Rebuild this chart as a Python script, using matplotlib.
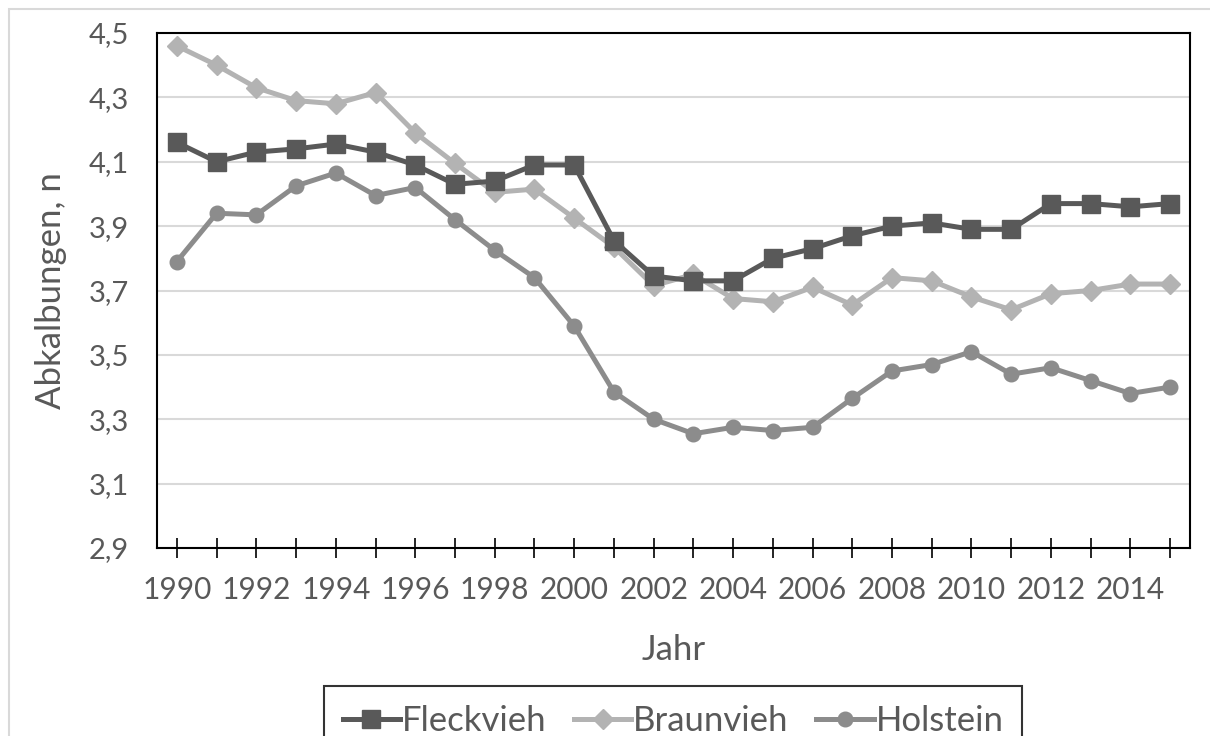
import matplotlib
matplotlib.use('Agg')
import matplotlib.pyplot as plt
from matplotlib.patches import Rectangle
from matplotlib.ticker import FuncFormatter

plt.rcParams['font.family'] = ['Lato', 'DejaVu Sans']

# data
years = list(range(1990, 2016))
fleckvieh = [4.16, 4.10, 4.13, 4.14, 4.155, 4.13, 4.09, 4.03, 4.04, 4.09, 4.09, 3.855,
             3.745, 3.73, 3.73, 3.80, 3.83, 3.87, 3.90, 3.91, 3.89, 3.89, 3.97, 3.97, 3.96, 3.97]
braunvieh = [4.46, 4.40, 4.33, 4.29, 4.28, 4.315, 4.19, 4.095, 4.005, 4.015, 3.925, 3.835,
             3.715, 3.75, 3.675, 3.665, 3.71, 3.655, 3.74, 3.73, 3.68, 3.64, 3.69, 3.70, 3.72, 3.72]
holstein = [3.79, 3.94, 3.935, 4.025, 4.065, 3.995, 4.02, 3.92, 3.825, 3.74, 3.59, 3.385,
            3.30, 3.255, 3.275, 3.265, 3.275, 3.365, 3.45, 3.47, 3.51, 3.44, 3.46, 3.42, 3.38, 3.40]
y_ticks = [2.9, 3.1, 3.3, 3.5, 3.7, 3.9, 4.1, 4.3, 4.5]

txt = '#595959'

fig = plt.figure(figsize=(12.1, 7.36), dpi=100)
ax = fig.add_axes([157/1210, 1-548/736, (1190-157)/1210, (548-33)/736])

# chart area border (light gray)
fig.patches.append(Rectangle((9/1210, -0.1), 1.2, 1-9/736+0.1, transform=fig.transFigure,
                             fill=False, edgecolor='#d9d9d9', lw=1.5, zorder=0))

ax.plot(years, fleckvieh, color='#595959', lw=3.6, marker='s', ms=13.5, label='Fleckvieh', zorder=5)
ax.plot(years, braunvieh, color='#b3b3b3', lw=3.6, marker='D', ms=10, label='Braunvieh', zorder=4)
ax.plot(years, holstein, color='#8c8c8c', lw=3.6, marker='o', ms=10.5, label='Holstein', zorder=3)

ax.set_xlim(1989.5, 2015.5)
ax.set_ylim(2.9, 4.5)
ax.set_yticks(y_ticks)
ax.yaxis.set_major_formatter(FuncFormatter(lambda v, p: f'{v:.1f}'.replace('.', ',')))
ax.set_xticks(years)
ax.set_xticklabels([str(y) if y % 2 == 0 else '' for y in years])
ax.grid(axis='y', color='#d9d9d9', lw=1.5)
ax.set_axisbelow(True)

for s in ax.spines.values():
    s.set_color('black')
    s.set_linewidth(1.5)
ax.tick_params(axis='x', direction='inout', length=14, width=1.2, colors='black',
               labelcolor=txt, labelsize=21.5, pad=13)
ax.tick_params(axis='y', length=0, labelcolor=txt, labelsize=21, pad=20)

ax.set_xlabel('Jahr', fontsize=25, color=txt, labelpad=22)
ax.set_ylabel('Abkalbungen, n', fontsize=25, color=txt, labelpad=16)

leg = fig.legend(loc='upper center', bbox_to_anchor=(673/1210, 1-684/736), ncol=3,
                 fontsize=25, frameon=True, fancybox=False, handlelength=1.65,
                 handletextpad=0.05, columnspacing=0.8, borderpad=0.1)
leg.get_frame().set_boxstyle('square', pad=0.45)
leg.get_frame().set_edgecolor('black')
leg.get_frame().set_linewidth(1.5)
for t in leg.get_texts():
    t.set_color(txt)

fig.savefig('out.png', dpi=100)
